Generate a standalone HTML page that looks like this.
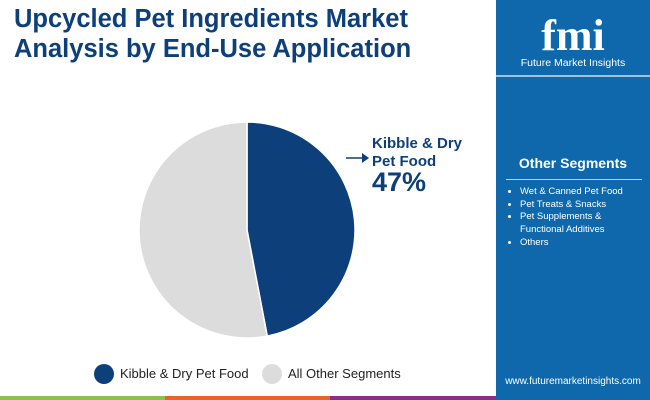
<!DOCTYPE html>
<html><head><meta charset="utf-8"><style>
body{margin:0;width:650px;height:400px;position:relative;overflow:hidden;background:#fff;font-family:"Liberation Sans",sans-serif}
.t{position:absolute;left:14px;top:4px;color:#0d3f7a;font-weight:bold;font-size:25.5px;line-height:30px}
.panel{position:absolute;left:496px;top:0;width:154px;height:400px;background:#0e68ab}
.logo{position:absolute;left:496px;top:0;width:154px;height:75px}
.sep{position:absolute;left:496px;top:75px;width:154px;height:2px;background:#fff;opacity:.6}
.os{position:absolute;left:496px;top:155px;width:154px;text-align:center;color:#fff;font-weight:bold;font-size:14px}
.ln{position:absolute;left:506px;top:179px;width:136px;height:1px;background:#fff;opacity:.7}
ul{position:absolute;left:506px;top:186px;margin:0;padding-left:14px;color:#fff;font-size:9.5px;line-height:12.7px;width:112px}
.url{position:absolute;left:496px;width:154px;top:376px;text-align:center;color:#fff;font-size:10px}
.leg{position:absolute;top:366px;font-size:13px;color:#222}
.dot{position:absolute;top:364px;width:20px;height:20px;border-radius:50%}
</style></head><body>
<div class="t">Upcycled Pet Ingredients Market<br>Analysis by End-Use Application</div>
<div class="panel"></div>
<svg class="logo" viewBox="0 0 154 75">
<text x="77" y="50" text-anchor="middle" fill="#fff" font-size="44" font-weight="bold" font-family="Liberation Serif">fmi</text>
<text x="77" y="66" text-anchor="middle" fill="#fff" font-size="10.5">Future Market Insights</text>
</svg>
<div class="sep"></div>
<div class="os">Other Segments</div>
<div class="ln"></div>
<ul>
<li>Wet &amp; Canned Pet Food</li><li>Pet Treats &amp; Snacks</li><li>Pet Supplements &amp; Functional Additives</li><li>Others</li></ul>
<div class="url">www.futuremarketinsights.com</div>
<svg id="pie" width="496" height="400" style="position:absolute;left:0;top:0"></svg>
<div class="dot" style="left:94px;background:#0d3f7a"></div>
<div class="leg" style="left:120px">Kibble &amp; Dry Pet Food</div>
<div class="dot" style="left:262px;background:#dcdcdc"></div>
<div class="leg" style="left:288px">All Other Segments</div>
<div style="position:absolute;top:396px;left:0;width:165px;height:4px;background:#8bc34a"></div>
<div style="position:absolute;top:396px;left:165px;width:165px;height:4px;background:#e8622a"></div>
<div style="position:absolute;top:396px;left:330px;width:166px;height:4px;background:#8e2c8a"></div>
<script>
const categories=["Kibble & Dry Pet Food","All Other Segments"];
const values=[47,53];
const colors=["#0d3f7a","#dcdcdc"];
const ns="http://www.w3.org/2000/svg",svg=document.getElementById("pie");
const cx=247,cy=230,r=108,total=values.reduce((a,b)=>a+b,0);
let a0=-Math.PI/2;
values.forEach((v,i)=>{
 const a1=a0+v/total*2*Math.PI;
 const x0=cx+r*Math.cos(a0),y0=cy+r*Math.sin(a0),x1=cx+r*Math.cos(a1),y1=cy+r*Math.sin(a1);
 const p=document.createElementNS(ns,"path");
 p.setAttribute("d",`M${cx},${cy}L${x0},${y0}A${r},${r} 0 ${a1-a0>Math.PI?1:0} 1 ${x1},${y1}Z`);
 p.setAttribute("fill",colors[i]);p.setAttribute("stroke","#fff");p.setAttribute("stroke-width","1.5");
 
 
 svg.appendChild(p);a0=a1;
});
const g=document.createElementNS(ns,"g");


g.innerHTML=`<line x1="346" y1="158" x2="362" y2="158" stroke="#0d3f7a" stroke-width="1.5"/><path d="M362,153 L369,158 L362,163Z" fill="#0d3f7a"/>
<text x="372" y="148" fill="#0d3f7a" font-weight="bold" font-size="15">Kibble &amp; Dry</text>
<text x="372" y="166" fill="#0d3f7a" font-weight="bold" font-size="15">Pet Food</text>
<text x="372" y="191" fill="#0d3f7a" font-weight="bold" font-size="27">${values[0]}%</text>`;
svg.appendChild(g);
</script>
</body></html>
